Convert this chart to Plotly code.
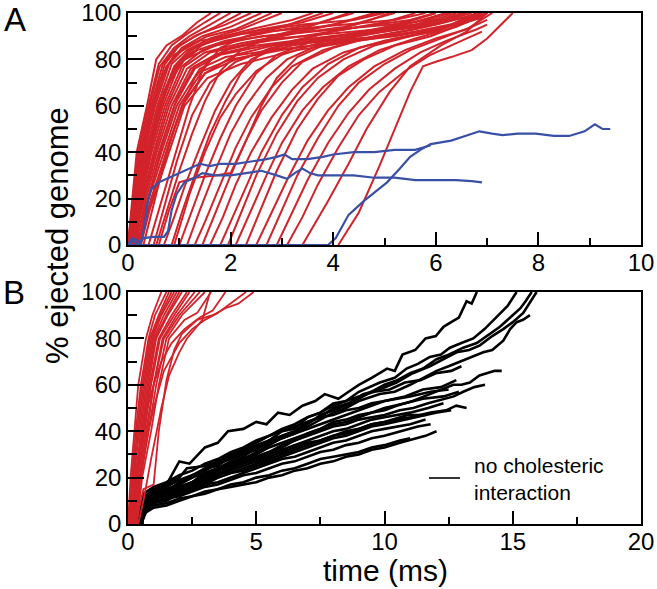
import plotly.graph_objects as go

# ---------------- DATA ----------------
# Panel A: red = normal ejections (time ms, % ejected)
a_red_fast = [
    [(0,0),(0.08,20),(0.17,40),(0.37,60),(0.55,80),(0.75,86),(1.07,90.5),(1.35,96),(1.62,100)],
    [(0,0),(0.1,20),(0.2,40),(0.4,60),(0.6,78),(0.85,86),(1.15,91),(1.5,96),(1.8,100)],
    [(0.02,0),(0.12,20),(0.22,40),(0.42,60),(0.62,77),(0.9,85),(1.2,90),(1.6,95),(2.0,100)],
    [(0,0),(0.12,20),(0.25,40),(0.45,60),(0.68,78),(0.95,85),(1.3,90),(1.7,94),(2.2,100)],
    [(0.03,0),(0.14,20),(0.27,40),(0.48,60),(0.72,78),(1.0,86),(1.4,91),(1.9,95),(2.4,100)],
    [(0.05,0),(0.15,20),(0.3,40),(0.5,60),(0.75,77),(1.05,85),(1.45,90),(2.0,94),(2.6,100)],
    [(0,0),(0.16,20),(0.32,40),(0.53,60),(0.8,78),(1.1,85),(1.55,90),(2.1,93),(2.8,100)],
    [(0.06,0),(0.18,20),(0.35,40),(0.57,60),(0.85,78),(1.15,84),(1.6,89),(2.2,93),(3.0,100)],
    [(0.04,0),(0.2,20),(0.38,40),(0.6,60),(0.9,77),(1.2,84),(1.7,89),(2.4,93),(3.2,97),(3.6,100)],
    [(0.08,0),(0.22,20),(0.4,40),(0.64,60),(0.95,78),(1.3,85),(1.8,89),(2.6,93),(3.4,96),(4.0,100)],
    [(0.05,0),(0.24,20),(0.43,40),(0.68,60),(1.0,78),(1.35,84),(1.9,88),(2.8,92),(3.6,95),(4.4,100)],
    [(0.1,0),(0.26,20),(0.46,40),(0.72,60),(1.05,77),(1.45,84),(2.0,88),(3.0,91),(4.0,95),(4.8,100)],
    [(0.07,0),(0.28,20),(0.5,40),(0.76,60),(1.1,77),(1.5,83),(2.2,87),(3.2,91),(4.2,94),(5.2,100)],
    [(0.12,0),(0.3,20),(0.53,40),(0.8,60),(1.15,76),(1.6,83),(2.4,87),(3.4,90),(4.5,94),(5.5,97),(6.0,100)],
    [(0.1,0),(0.32,20),(0.56,40),(0.85,60),(1.22,76),(1.7,82),(2.5,86),(3.6,89),(4.8,92),(5.8,95),(6.5,100)],
    [(0.15,0),(0.35,20),(0.6,40),(0.9,60),(1.3,76),(1.8,82),(2.7,86),(3.8,88),(5.0,90),(6.0,93),(6.6,96),(6.9,98)],
    [(0.12,0),(0.38,20),(0.65,40),(0.95,60),(1.4,76),(1.9,81),(2.8,84),(4.0,87),(5.2,90),(6.2,94),(6.8,100)],
    [(0.18,0),(0.4,20),(0.7,40),(1.0,60),(1.45,75),(2.0,80),(3.0,84),(4.2,88),(5.4,91),(6.4,95),(7.0,100)],
    [(0.2,0),(0.45,20),(0.75,40),(1.05,60),(1.5,74),(2.1,80),(3.2,86),(4.4,90),(5.5,94),(6.2,100)],
    [(0.15,0),(0.5,20),(0.8,40),(1.1,60),(1.55,72),(2.2,78),(3.3,84),(4.5,88),(5.6,92),(6.5,96),(6.9,100)],
]
a_red_plateau = [
    [(0.05,0),(0.2,25),(0.4,50),(0.6,70),(0.9,82),(1.4,88),(2.2,91),(3.2,93),(4.2,95),(5.2,97),(5.8,100)],
    [(0.1,0),(0.3,25),(0.5,48),(0.75,68),(1.1,80),(1.7,86),(2.6,90),(3.6,92),(4.6,94),(5.6,96),(6.3,100)],
    [(0.08,0),(0.25,22),(0.45,45),(0.7,66),(1.0,79),(1.5,87),(2.4,92),(3.4,95),(4.4,97),(5.0,100)],
    [(0.2,0),(0.4,20),(0.65,42),(0.95,63),(1.3,77),(1.9,84),(2.9,89),(3.9,91),(4.9,93),(5.9,96),(6.6,100)],
    [(0.25,0),(0.5,22),(0.8,44),(1.1,62),(1.5,74),(2.1,82),(3.0,87),(4.0,90),(5.0,92),(6.0,95),(6.7,99)],
    [(0.5,0),(0.7,16),(0.95,36),(1.25,56),(1.6,70),(2.1,79),(2.8,85),(3.8,89),(4.8,92),(5.8,95),(6.6,100)],
]
a_red_delayed = [
    [(0.3,0),(0.5,18),(0.7,35),(0.9,50),(1.1,62),(1.3,72),(1.6,80),(2.0,85),(2.6,88),(3.4,92),(4.2,96),(4.9,100)],
    [(0.4,0),(0.6,15),(0.8,30),(1.0,45),(1.2,60),(1.45,75),(1.8,85),(2.3,90),(3.0,94),(3.8,100)],
    [(0.55,0),(0.8,18),(1.0,32),(1.25,48),(1.5,62),(1.8,75),(2.2,84),(2.8,90),(3.5,94),(4.3,100)],
    [(0.6,0),(0.8,15),(1.0,27),(1.3,29),(1.7,30),(2.0,31),(2.3,45),(2.6,60),(2.9,72),(3.3,81),(3.9,87),(4.7,92),(5.5,97),(6.0,100)],
    [(0.7,0),(0.9,12),(1.1,25),(1.4,42),(1.7,58),(2.0,70),(2.4,80),(3.0,86),(3.8,91),(4.6,96),(5.1,100)],
    [(0.85,0),(1.05,14),(1.3,30),(1.6,48),(1.9,62),(2.2,74),(2.6,83),(3.2,88),(4.0,92),(5.0,96),(5.6,100)],
    [(0.9,0),(1.2,22),(1.5,40),(1.8,55),(2.1,65),(2.5,75),(3.0,82),(3.7,87),(4.5,91),(5.4,95),(6.2,100)],
    [(1.0,0),(1.2,12),(1.5,30),(1.8,46),(2.1,60),(2.5,74),(2.9,82),(3.5,87),(4.3,91),(5.3,95),(6.0,100)],
    [(1.15,0),(1.4,15),(1.7,32),(2.0,48),(2.3,60),(2.7,72),(3.1,80),(3.7,86),(4.5,90),(5.5,94),(6.4,100)],
    [(1.3,0),(1.5,10),(1.8,26),(2.1,42),(2.4,55),(2.8,68),(3.2,77),(3.8,84),(4.6,89),(5.6,93),(6.7,100)],
    [(1.45,0),(1.7,14),(2.0,30),(2.3,45),(2.6,58),(3.0,70),(3.4,79),(4.0,85),(4.8,90),(5.8,94),(6.9,100)],
    [(1.6,0),(1.85,12),(2.1,26),(2.4,40),(2.8,55),(3.2,67),(3.6,76),(4.2,83),(5.0,88),(6.0,92),(7.0,100)],
    [(1.8,0),(2.0,10),(2.3,25),(2.6,40),(3.0,56),(3.4,68),(3.9,78),(4.5,85),(5.2,89),(6.1,93),(6.8,100)],
    [(1.95,0),(2.2,14),(2.5,30),(2.9,48),(3.3,62),(3.7,72),(4.2,80),(4.8,86),(5.5,90),(6.3,95),(6.9,100)],
    [(2.1,0),(2.4,15),(2.7,30),(3.0,44),(3.4,58),(3.8,68),(4.3,77),(4.9,84),(5.6,89),(6.4,94),(7.0,100)],
    [(2.3,0),(2.6,16),(2.9,32),(3.3,50),(3.7,63),(4.1,73),(4.6,80),(5.2,86),(5.9,90),(6.6,96),(7.0,100)],
    [(2.5,0),(2.8,14),(3.1,28),(3.5,45),(3.9,58),(4.3,68),(4.8,77),(5.4,84),(6.0,89),(6.6,93),(7.1,100)],
    [(2.7,0),(3.0,15),(3.3,30),(3.7,46),(4.1,60),(4.5,70),(5.0,78),(5.5,84),(6.1,89),(6.7,94),(7.0,97)],
    [(2.9,0),(3.2,14),(3.5,28),(3.9,44),(4.3,57),(4.7,67),(5.2,76),(5.7,83),(6.2,88),(6.8,93),(7.0,95)],
    [(3.1,0),(3.4,12),(3.7,26),(4.1,42),(4.5,56),(4.9,66),(5.4,75),(5.9,82),(6.4,87),(6.9,92)],
    [(3.4,0),(3.9,19),(4.3,35),(4.65,50),(5.1,66),(5.5,77),(6.1,86),(6.6,92),(7.0,100)],
    [(4.1,0),(4.5,14),(4.9,34),(5.2,50),(5.5,66),(5.75,77),(6.0,79),(6.3,81),(6.7,84),(7.0,89),(7.5,100)],
]
# Panel A: blue = stalled ejections
a_blue = [
    [(0,0),(0.08,3),(0.18,2),(0.25,1),(0.32,8),(0.38,18),(0.45,24),(0.6,27),(0.8,29),(1.0,31),(1.2,33),
     (1.4,35),(1.6,34),(1.8,35),(2.1,35),(2.4,36),(2.7,37),(2.9,38),(3.05,39),(3.2,37),(3.5,37),(3.8,38),
     (4.0,39),(4.4,40),(4.8,40),(5.2,41),(5.6,41),(5.9,43)],
    [(0,0),(0.1,2),(0.2,0),(0.3,3),(0.5,3.5),(0.7,3.5),(0.78,6),(0.85,15),(0.95,22),(1.1,27),(1.3,29),
     (1.45,31),(1.7,30),(2.0,30),(2.3,31),(2.6,32),(2.9,30),(3.1,28.5),(3.25,31),(3.4,33),(3.55,31),
     (3.7,30),(4.0,30),(4.4,30),(4.8,29),(5.2,29),(5.6,28),(6.0,28),(6.4,28),(6.7,27.5),(6.9,27)],
    [(0,0),(1,0),(2,0),(3,0),(3.9,0),(4.05,3),(4.3,13),(4.6,19),(5.05,27),(5.3,33),(5.5,38),(5.7,41),
     (5.9,43.5),(6.3,45),(6.6,47),(6.85,49),(7.1,48),(7.3,47.4),(7.6,48),(7.95,48),(8.3,47),(8.6,47),
     (8.9,49),(9.1,52),(9.25,50),(9.4,50)],
]
# Panel B: red = with cholesteric interaction
b_red = [
    [(0,0),(0.1,20),(0.25,40),(0.4,60),(0.7,80),(0.95,90),(1.3,100)],
    [(0.05,0),(0.15,20),(0.3,40),(0.5,60),(0.8,80),(1.05,90),(1.5,100)],
    [(0,0),(0.2,20),(0.35,40),(0.55,60),(0.85,80),(1.2,90),(1.6,100)],
    [(0.1,0),(0.25,20),(0.4,40),(0.6,60),(0.9,80),(1.25,90),(1.7,100)],
    [(0.05,0),(0.2,20),(0.45,40),(0.65,60),(0.95,80),(1.3,90),(1.8,100)],
    [(0.15,0),(0.3,20),(0.5,40),(0.7,60),(1.0,80),(1.4,90),(1.9,100)],
    [(0.1,0),(0.3,20),(0.55,40),(0.75,60),(1.05,80),(1.5,90),(2.0,100)],
    [(0.2,0),(0.35,20),(0.6,40),(0.8,60),(1.1,80),(1.55,90),(2.1,100)],
    [(0.15,0),(0.35,20),(0.6,40),(0.85,60),(1.2,80),(1.7,90),(2.3,100)],
    [(0.25,0),(0.4,20),(0.65,40),(0.9,60),(1.25,80),(1.8,90),(2.4,100)],
    [(0.2,0),(0.45,20),(0.7,40),(1.0,60),(1.35,80),(1.9,90),(2.6,100)],
    [(0.3,0),(0.5,20),(0.75,40),(1.0,60),(1.4,80),(2.0,90),(2.8,100)],
    [(0.25,0),(0.5,20),(0.8,40),(1.1,60),(1.5,80),(2.1,90),(3.0,100)],
    [(0.35,0),(0.55,20),(0.9,40),(1.2,60),(1.6,80),(2.2,88),(2.7,91),(3.24,100)],
    [(0.4,0),(0.6,10),(0.9,28),(1.3,50),(1.6,64),(2.0,74),(2.3,80),(2.6,84),(2.9,88),(3.2,100)],
    [(0.1,0),(0.4,30),(0.7,48),(1.0,60),(1.3,70),(1.7,78),(2.2,84),(2.8,89),(3.3,92),(3.8,100)],
    [(0.2,0),(0.5,22),(0.8,40),(1.0,50),(1.4,66),(1.7,72),(2.0,78),(2.5,84),(3.0,88),(3.5,91),(4.0,95),(4.6,100)],
    [(0.3,0),(0.6,15),(1.0,17),(1.2,40),(1.5,62),(1.8,75),(2.1,82),(2.7,88),(3.3,90),(3.8,93),(4.3,95),(4.9,100)],
]
# Panel B: black = no cholesteric interaction
b_black = [
    [(0.45,0),(0.6,12),(1.0,14),(1.5,17),(2.0,27),(2.4,26),(3.0,33),(3.5,35),(3.9,40),(4.5,41),(5.0,44),
     (5.4,43),(5.85,48),(6.3,47),(6.8,51),(7.3,53),(7.67,56),(8.2,54),(8.6,57),(9.0,60),(9.5,63),(10.1,67),
     (10.4,66),(10.7,73),(11.2,75),(11.6,80),(12.0,81),(12.3,85),(12.6,87),(12.9,89),(13.2,96),(13.4,95),(13.6,100)],
    [(0.5,0),(0.65,10),(1.0,13),(1.5,14),(2.0,18),(2.5,20),(3.0,24),(3.5,25),(4.0,29),(4.5,31),(5.0,34),
     (5.5,36),(6.0,40),(6.5,41),(7.0,46),(7.5,48),(8.0,52),(8.5,53),(9.0,57),(9.82,61),(10.4,63),(10.86,67),
     (11.3,69),(11.77,72),(12.2,73),(12.55,76),(13.0,78),(13.46,80),(13.9,84),(14.37,89),(14.8,94),(15.15,100)],
    [(0.4,0),(0.6,8),(1.0,11),(1.5,13),(2.0,16),(2.5,18),(3.0,22),(3.5,24),(4.0,27),(4.5,29),(5.0,33),
     (5.5,34),(6.0,38),(6.5,40),(7.0,44),(7.5,46),(8.0,50),(8.6,52),(9.17,56),(9.8,58),(10.47,61),(11.1,65),
     (11.77,68),(12.3,71),(12.81,74),(13.3,75),(13.72,77),(14.2,81),(14.63,84),(15.0,87),(15.41,91),(15.7,96),(15.93,100)],
    [(0.5,0),(0.7,9),(1.0,12),(1.5,13),(2.0,15),(2.5,18),(3.0,21),(3.5,23),(4.0,26),(4.5,28),(5.0,31),
     (5.5,34),(6.0,37),(6.5,39),(7.0,42),(7.5,45),(8.0,48),(8.5,50),(9.0,53),(9.82,56),(10.4,57),(11.0,60),
     (11.5,63),(12.03,66),(12.5,68),(12.94,70),(13.4,72),(13.85,74),(14.2,75),(14.63,79),(14.9,84),
     (15.15,87),(15.4,88),(15.67,90)],
    [(0.55,0),(0.7,11),(1.0,13),(1.5,15),(2.0,17),(2.5,21),(3.0,23),(3.5,26),(4.0,28),(4.5,30),(5.0,32),
     (5.5,36),(6.0,38),(6.5,40),(7.0,43),(7.5,47),(8.0,49),(8.5,51),(9.0,54),(9.5,57),(10.0,60),(10.5,62),
     (11.0,65),(11.5,67),(12.03,71),(12.5,73),(13.07,76),(13.6,78),(14.1,82),(14.5,85),(14.9,89),(15.3,93),
     (15.5,96),(15.74,100)],
    [(0.45,0),(0.6,7),(1.0,10),(1.5,11),(2.0,14),(2.5,17),(3.0,19),(3.5,21),(4.0,24),(4.5,27),(5.0,29),
     (5.5,31),(6.0,34),(6.5,36),(7.0,39),(7.5,41),(8.0,44),(8.5,45),(9.0,47),(9.5,48),(10.0,49),(10.47,51),
     (11.1,53),(11.77,56),(12.2,58),(12.68,60),(13.0,60),(13.33,61),(13.7,64),(13.96,65),(14.3,66),(14.57,66)],
    [(0.5,0),(0.65,9),(1.0,12),(1.5,13),(2.0,15),(2.5,17),(3.0,20),(3.5,23),(4.0,25),(4.5,27),(5.0,29),
     (5.5,31),(6.0,33),(6.5,36),(7.0,38),(7.5,40),(8.0,42),(8.5,43),(9.0,45),(9.5,46),(10.0,47),(10.6,49),
     (11.12,50),(11.7,52),(12.3,54),(12.7,55),(13.07,57),(13.5,59),(13.92,60)],
    [(0.45,0),(0.6,6),(1.0,9),(1.5,10),(2.0,13),(2.5,15),(3.0,17),(3.5,20),(4.0,22),(4.5,24),(5.0,26),
     (5.5,28),(6.0,30),(6.5,32),(7.0,34),(7.5,36),(8.0,38),(8.5,39),(9.0,41),(9.5,43),(10.0,44),(10.5,45),
     (11.0,46),(11.8,48),(12.4,49),(12.8,51),(13.2,50)],
    [(0.5,0),(0.7,5),(1.0,7),(1.5,8),(2.0,10),(2.5,12),(3.0,13),(3.5,15),(4.0,16),(4.5,17),(5.0,18),
     (5.5,20),(6.0,21),(6.5,23),(7.0,24),(7.5,26),(8.0,27),(8.5,29),(9.0,30),(9.5,32),(10.0,33),(10.6,35),
     (11.2,37),(11.6,38),(12.03,40)],
    [(0.4,0),(0.6,10),(1.0,13),(1.5,16),(2.0,19),(2.5,21),(3.0,24),(3.5,27),(4.0,30),(4.5,32),(5.0,35),
     (5.5,38),(6.0,41),(6.5,43),(7.0,46),(7.5,48),(8.0,51),(8.5,53),(9.0,55),(9.6,57),(10.2,58),(10.8,61),
     (11.4,62),(12.0,65),(12.6,66),(13.0,68)],
    [(0.55,0),(0.7,12),(1.0,15),(1.5,17),(2.0,20),(2.3,24),(3.0,25),(3.5,27),(4.0,29),(4.5,31),(5.0,33),
     (5.5,35),(6.0,37),(6.5,39),(7.0,41),(7.5,43),(8.0,45),(8.5,47),(9.0,49),(9.5,51),(10.0,53),(10.8,55),
     (11.5,58),(12.2,59),(12.8,62)],
    [(0.5,0),(0.65,8),(1.0,11),(1.5,12),(2.0,14),(2.5,16),(3.0,18),(3.5,20),(4.0,22),(4.5,23),(5.0,25),
     (5.5,27),(6.0,29),(6.5,31),(7.0,33),(7.5,35),(8.0,37),(8.5,38),(9.0,40),(9.5,42),(10.0,43),(10.8,45),
     (11.5,47),(12.0,48),(12.6,49)],
    [(0.45,0),(0.6,7),(1.0,10),(1.5,11),(2.0,12),(2.5,14),(3.0,16),(3.5,17),(4.0,19),(4.5,21),(5.0,22),
     (5.5,24),(6.0,26),(6.5,27),(7.0,29),(7.5,31),(8.0,32),(8.5,34),(9.0,35),(9.5,37),(10.0,38),(10.7,40),
     (11.3,42),(11.8,43)],
    [(0.5,0),(0.7,6),(1.0,8),(1.5,9),(2.0,11),(2.5,12),(3.0,14),(3.5,15),(4.0,17),(4.5,18),(5.0,20),
     (5.5,21),(6.0,23),(6.5,24),(7.0,26),(7.5,28),(8.0,29),(8.5,30),(9.0,31),(9.5,33),(10.0,34),(10.6,36),(11.0,37)],
    [(0.5,0),(0.65,11),(1.0,14),(1.5,15),(2.0,17),(2.5,20),(3.0,22),(3.5,24),(4.0,26),(4.5,28),(5.0,30),
     (5.5,33),(6.0,35),(6.5,37),(7.0,39),(7.5,41),(8.0,43),(8.5,44),(9.0,46),(9.5,48),(10.0,50),(10.8,52),
     (11.5,54),(12.3,55),(12.9,57)],
    [(0.45,0),(0.6,9),(1.0,12),(1.5,14),(2.0,16),(2.5,18),(3.0,20),(3.5,22),(4.0,24),(4.5,26),(5.0,28),
     (5.5,30),(6.0,32),(6.5,34),(7.0,36),(7.5,38),(8.0,40),(8.5,41),(9.0,43),(9.5,45),(10.0,46),(11.0,48),
     (11.7,50),(12.3,52)],
    [(0.55,0),(0.7,10),(1.0,12),(1.5,13),(2.0,15),(2.5,17),(3.0,19),(3.5,21),(4.0,23),(4.5,25),(5.0,27),
     (5.5,29),(6.0,31),(6.5,33),(7.0,35),(7.5,36),(8.0,38),(8.5,40),(9.0,41),(9.5,43),(10.0,44),(10.9,47),(11.6,47)],
    [(0.4,0),(0.6,13),(1.0,16),(1.5,18),(2.0,21),(2.5,23),(3.0,26),(3.5,28),(4.0,31),(4.5,33),(5.0,36),
     (5.5,38),(6.0,40),(6.5,42),(7.0,44),(7.5,46),(8.0,47),(8.5,49),(9.0,50),(9.5,52),(10.0,53),(11.0,55),
     (11.8,57),(12.5,58)],
    [(0.5,0),(0.65,6),(1.0,9),(1.5,11),(2.0,13),(2.5,15),(3.0,17),(3.5,18),(4.0,20),(4.5,22),(5.0,24),
     (5.5,26),(6.0,28),(6.5,29),(7.0,31),(7.5,33),(8.0,35),(8.5,36),(9.0,38),(9.5,40),(10.0,41),(11.0,43),(11.6,45)],
]

a_xticks = [0, 2, 4, 6, 8, 10]
b_xticks = [0, 5, 10, 15, 20]
y_ticks = [0, 20, 40, 60, 80, 100]

panel_labels = ["A", "B"]
y_title = "% ejected genome"
x_title = "time (ms)"
legend_text = "no cholesteric<br>interaction"

RED = "#d2232a"
BLUE = "#3a4fa6"
BLACK = "#000000"
FONT = "Liberation Sans, Arial, Helvetica, sans-serif"

# ---------------- FIGURE ----------------
fig = go.Figure()


def add_curves(curves, color, width, xa, ya):
    for c in curves:
        fig.add_trace(go.Scatter(
            x=[p[0] for p in c], y=[p[1] for p in c], mode="lines",
            line=dict(color=color, width=width), xaxis=xa, yaxis=ya,
            showlegend=False, hoverinfo="skip"))


add_curves(a_red_fast, RED, 2.0, "x", "y")
add_curves(a_red_plateau, RED, 2.0, "x", "y")
add_curves(a_red_delayed, RED, 2.0, "x", "y")
add_curves(a_blue, BLUE, 2.2, "x", "y")
add_curves(b_black, BLACK, 2.6, "x2", "y2")
add_curves(b_red, RED, 1.8, "x2", "y2")

W, H = 657, 589
L, R = 128, 641
A_top, A_bot = 13, 245
B_top, B_bot = 292, 524

common = dict(showline=True, mirror=True, linecolor="black", linewidth=1.6,
              showgrid=False, zeroline=False, ticks="inside", tickcolor="black",
              tickwidth=1.6, automargin=False, ticklabeloverflow="allow",
              tickfont=dict(family=FONT, size=24, color="black"))

fig.update_layout(
    width=W, height=H, template="none",
    margin=dict(l=0, r=0, t=0, b=0),
    paper_bgcolor="white", plot_bgcolor="white",
    xaxis=dict(domain=[L / W, R / W], anchor="y", range=[0, 10], tickvals=a_xticks,
               ticklen=13, ticklabelstandoff=-5,
               minor=dict(dtick=1, ticks="inside", ticklen=7, tickwidth=1.6, tickcolor="black"),
               **common),
    yaxis=dict(domain=[1 - A_bot / H, 1 - A_top / H], anchor="x", range=[0, 100],
               tickvals=y_ticks, ticklen=16, ticklabelstandoff=0,
               minor=dict(dtick=10, ticks="inside", ticklen=9, tickwidth=1.6, tickcolor="black"),
               **common),
    xaxis2=dict(domain=[L / W, R / W], anchor="y2", range=[0, 20], tickvals=b_xticks,
                ticklen=13, ticklabelstandoff=-5,
                minor=dict(dtick=2.5, ticks="inside", ticklen=7, tickwidth=1.6, tickcolor="black"),
                **common),
    yaxis2=dict(domain=[1 - B_bot / H, 1 - B_top / H], anchor="x2", range=[0, 100],
                tickvals=y_ticks, ticklen=16, ticklabelstandoff=0,
                minor=dict(dtick=10, ticks="inside", ticklen=9, tickwidth=1.6, tickcolor="black"),
                **common),
)


def label(text, xpx, ypx, size, xanchor="center", angle=0, align="center"):
    return dict(text=text, x=xpx / W, y=1 - ypx / H, xref="paper", yref="paper",
                xanchor=xanchor, yanchor="middle", textangle=angle, showarrow=False,
                align=align, font=dict(family=FONT, size=size, color="black"))


ann = [
    label(panel_labels[0], 15, 20, 33),
    label(panel_labels[1], 14, 293, 33),
    label(y_title, 57, 236, 31, angle=-90),
    label(x_title, 385, 570, 30),
    label(legend_text, 472, 479, 21, xanchor="left", align="left"),
]
fig.update_layout(annotations=ann)

# legend sample line for the black series
fig.add_shape(type="line", xref="paper", yref="paper", x0=429 / W, x1=460 / W,
              y0=1 - 478 / H, y1=1 - 478 / H, line=dict(color=BLACK, width=1.6))

fig.write_html("out.html", config={"displayModeBar": False},
               post_script="document.body.style.margin='0';")
